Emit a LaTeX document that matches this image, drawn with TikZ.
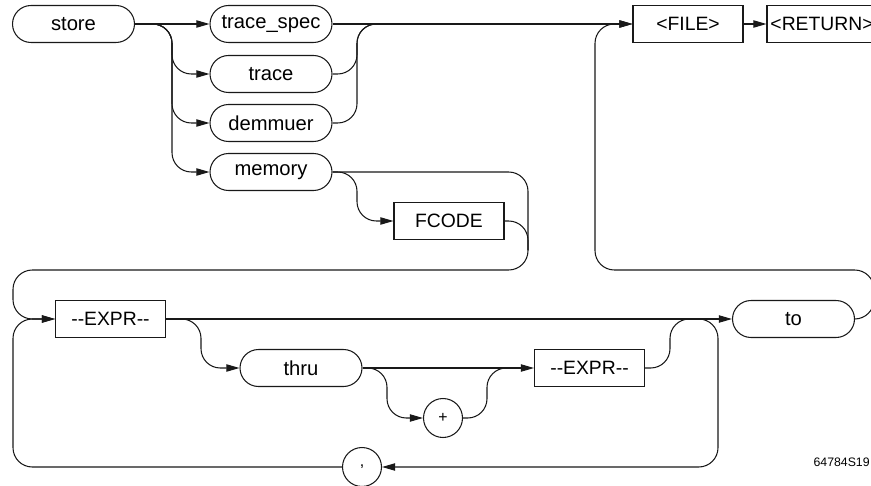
\documentclass[tikz,border=0pt]{standalone}
\usepackage{fontspec}
\setmainfont{Liberation Sans}
\usetikzlibrary{arrows.meta,shapes.misc}
\definecolor{diagInk}{RGB}{25,25,25}
\tikzset{
  keyword/.style={draw=diagInk,line width=0.6pt,rounded rectangle,minimum width=2.44cm,minimum height=0.74cm,inner sep=0pt,font=\fontsize{11.5}{13}\selectfont},
  param/.style={draw=diagInk,line width=0.6pt,rectangle,minimum width=2.2cm,minimum height=0.74cm,inner sep=0pt,font=\fontsize{11}{13}\selectfont},
  symb/.style={draw=diagInk,line width=0.6pt,circle,minimum size=0.78cm,inner sep=0pt,font=\fontsize{9}{10}\selectfont},
  flow/.style={draw=diagInk,line width=0.6pt,rounded corners=11pt},
  into/.style={flow,-{Triangle[length=7.5pt,width=4.2pt]}}
}

\begin{document}
\begin{tikzpicture}[x=0.02cm,y=-0.02cm]
\useasboundingbox (0,0) rectangle (871,486);
\clip (0,0) rectangle (871,486);
\node[keyword] (store) at (73.5,24) {store};
\node[keyword] (tspec) at (271,24) {trace\_spec};
\node[keyword] (trace) at (271,74) {trace};
\node[keyword] (demux) at (271,123) {demmuer};
\node[keyword] (memory) at (271,172) {memory};
\node[param] (fcode) at (449,221) {FCODE};
\node[param] (file) at (688,24) {<FILE>};
\node[param] (ret) at (822,24) {<RETURN>};
\node[param] (expra) at (110.5,319) {-{}-EXPR-{}-};
\node[keyword] (thru) at (301,368) {thru};
\node[symb] (plus) at (443,418) {+};
\node[param] (exprb) at (589.5,368) {-{}-EXPR-{}-};
\node[keyword] (kwto) at (793.5,319) {to};
\node[symb] (comma) at (362,467) {,};
\node[anchor=east,font=\fontsize{7}{8}\selectfont,inner sep=0pt] (figid) at (870,462) {64784S19};

\coordinate (srail) at (172,24);
\coordinate (tjoin) at (357,24);
\coordinate (mjoin) at (357,172);
\coordinate (fdrop) at (528,250);
\coordinate (mrail) at (528,270);
\coordinate (lrail) at (13,270);
\coordinate (lback) at (13,467);
\coordinate (frail) at (595,270);
\coordinate (wrapin) at (874,290);
\coordinate (tjoinb) at (201,319);
\coordinate (pjoin) at (387,368);
\coordinate (pout) at (487,368);
\coordinate (ejoin) at (670,319);
\coordinate (lsplit) at (690,319);
\coordinate (loopr) at (718,467);

\draw[into] (store.east) -- (tspec.west);
\draw[into] (store.east) -- (srail) |- (trace.west);
\draw[into] (store.east) -- (srail) |- (demux.west);
\draw[into] (store.east) -- (srail) |- (memory.west);
\draw[into] (tspec.east) -- (file.west);
\draw[flow] (trace.east) -| (tjoin) -- ++(25,0);
\draw[flow] (demux.east) -| (tjoin) -- ++(25,0);
\draw[into] (memory.east) -- (mjoin) |- (fcode.west);
\draw[flow] (fcode.east) -| (fdrop);
\draw[into] (memory.east) -| (mrail) -- (lrail) |- (expra.west);
\draw[into] (file.east) -- (ret.west);
\draw[flow] (kwto.east) -| (wrapin);
\draw[into] (wrapin) |- (frail) |- (file.west);

\draw[into] (expra.east) -- (kwto.west);
\draw[into] (expra.east) -- (tjoinb) |- (thru.west);
\draw[into] (thru.east) -- (exprb.west);
\draw[into] (thru.east) -- (pjoin) |- (plus.west);
\draw[flow] (plus.east) -| (pout) -- ++(20,0);
\draw[flow] (exprb.east) -| (ejoin) -- ++(25,0);
\draw[into] (lsplit) -| (loopr) -- (comma.east);
\draw[into] (comma.west) -- (lback) |- (expra.west);
\end{tikzpicture}
\end{document}
